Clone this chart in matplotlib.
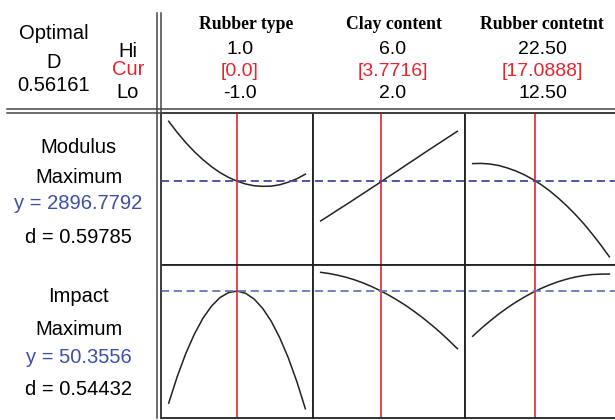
import matplotlib
matplotlib.use("Agg")
import matplotlib.pyplot as plt
from matplotlib.lines import Line2D
from matplotlib.transforms import blended_transform_factory

# optimizer settings
factors = ["Rubber type", "Clay content", "Rubber contetnt"]
lo = [-1.0, 2.0, 12.5]
hi = [1.0, 6.0, 22.5]
cur = [0.0, 3.7716, 17.0888]
hi_labels = ["1.0", "6.0", "22.50"]
lo_labels = ["-1.0", "2.0", "12.50"]
cur_labels = ["[0.0]", "[3.7716]", "[17.0888]"]

responses = ["Modulus", "Impact"]
goals = ["Maximum", "Maximum"]
y_opt = [2896.7792, 50.3556]
d_vals = [0.59785, 0.54432]
D_opt = 0.56161

# predicted response traces, one per factor
type_x = [-1, -0.875, -0.75, -0.625, -0.5, -0.375, -0.25, -0.125, 0,
          0.125, 0.25, 0.375, 0.5, 0.625, 0.75, 0.875, 1]
clay_x = [2, 2.25, 2.5, 2.75, 3, 3.25, 3.5, 3.75, 4,
          4.25, 4.5, 4.75, 5, 5.25, 5.5, 5.75, 6]
content_x = [12.5, 13.125, 13.75, 14.375, 15, 15.625, 16.25, 16.875, 17.5,
             18.125, 18.75, 19.375, 20, 20.625, 21.25, 21.875, 22.5]

modulus_type = [3197, 3141, 3090, 3045, 3005, 2970, 2940, 2916, 2897,
                2883, 2874, 2871, 2872, 2879, 2892, 2909, 2932]
modulus_clay = [2698, 2725, 2753, 2780, 2808, 2836, 2864, 2892, 2921,
                2949, 2978, 3006, 3035, 3063, 3091, 3119, 3147]
modulus_content = [2985, 2986, 2983, 2976, 2964, 2949, 2930, 2907, 2880,
                   2849, 2813, 2774, 2731, 2684, 2632, 2577, 2518]

impact_type = [39.19, 41.84, 44.13, 46.06, 47.64, 48.85, 49.71, 50.21, 50.36,
               50.14, 49.57, 48.64, 47.36, 45.71, 43.71, 41.34, 38.63]
impact_clay = [52.23, 52.11, 51.94, 51.73, 51.47, 51.16, 50.80, 50.39, 49.94,
               49.44, 48.90, 48.30, 47.66, 46.97, 46.24, 45.45, 44.62]
impact_content = [45.86, 46.64, 47.36, 48.04, 48.66, 49.23, 49.74, 50.21, 50.62,
                  50.98, 51.29, 51.55, 51.76, 51.91, 52.01, 52.05, 52.06]

xs = [type_x, clay_x, content_x]
traces = [[modulus_type, modulus_clay, modulus_content],
          [impact_type, impact_clay, impact_content]]
ylims = [(2477, 3237), (37.76, 52.96)]

RED = "#e3262d"
BLUE = "#3d4fa6"
DASH = ["#3f48a0", "#6877b6"]
SANS = ["Liberation Sans", "DejaVu Sans"]
SERIF = ["Liberation Serif", "DejaVu Serif"]

W, H = 615, 420
fig = plt.figure(figsize=(W / 100, H / 100), dpi=100)


def fx(px):
    return px / W


def fy(py):
    return 1 - py / H


def txt(x, y, s, size=14.5, color="black", family=SANS, weight="normal"):
    fig.text(fx(x), fy(y), s, ha="center", va="baseline", fontsize=size,
             color=color, family=family, weight=weight)


# grid of panels
col_edges = [161.3, 313.3, 465.3, 617.3]
row_edges = [113.3, 265.0, 417.5]

axes = []
for r in range(2):
    row = []
    for c in range(3):
        left, right = col_edges[c], col_edges[c + 1]
        top, bot = row_edges[r], row_edges[r + 1]
        ax = fig.add_axes([fx(left), fy(bot), fx(right - left), (bot - top) / H])
        span = hi[c] - lo[c]
        ax.set_xlim(lo[c] - 0.054 * span, hi[c] + 0.058 * span)
        ax.set_ylim(*ylims[r])
        ax.plot(xs[c], traces[r][c], color="#222222", lw=1.1)
        ax.axvline(cur[c], color=RED, lw=1.2)
        ax.set_xticks([])
        ax.set_yticks([])
        for sp in ax.spines.values():
            sp.set_color("#222222")
            sp.set_linewidth(1.3)
        row.append(ax)
    axes.append(row)

# optimum level across each row
for r in range(2):
    tr = blended_transform_factory(fig.transFigure, axes[r][0].transData)
    fig.add_artist(Line2D([fx(col_edges[0]), 1.0], [y_opt[r], y_opt[r]],
                          transform=tr, color=DASH[r], lw=1.3,
                          linestyle=(0, (4.5, 2.6))))

# double rules separating header and labels
for px in (157.3, 161.3):
    fig.add_artist(Line2D([fx(px), fx(px)], [fy(12.7), fy(418)],
                          color="#444444", lw=1.1))
for py in (109.3, 113.3):
    fig.add_artist(Line2D([fx(7), 1.0], [fy(py), fy(py)],
                          color="#444444", lw=1.1))

# header block
txt(54, 39, "Optimal")
txt(54, 68.3, "D")
txt(54, 90.7, f"{D_opt:.5f}")
txt(128, 56.7, "Hi")
txt(128, 75, "Cur", color=RED)
txt(128, 98.3, "Lo")

head_x = [246, 394, 542]
num_x = [240, 393, 542.5]
for c in range(3):
    txt(head_x[c], 29.3, factors[c], size=12.7, family=SERIF, weight="bold")
    txt(num_x[c], 54.5, hi_labels[c], size=14)
    txt(num_x[c], 76, cur_labels[c], size=14, color=RED)
    txt(num_x[c], 98.3, lo_labels[c], size=14)

# response labels
label_base = [[153.3, 183.3, 209.3, 243.3], [301.7, 335, 363.3, 395]]
for r in range(2):
    b = label_base[r]
    txt(78.5, b[0], responses[r])
    txt(78.5, b[1], goals[r])
    txt(78.5, b[2], f"y = {y_opt[r]:.4f}", color=BLUE)
    txt(78.5, b[3], f"d = {d_vals[r]:.5f}")

fig.savefig("out.png", dpi=100)
